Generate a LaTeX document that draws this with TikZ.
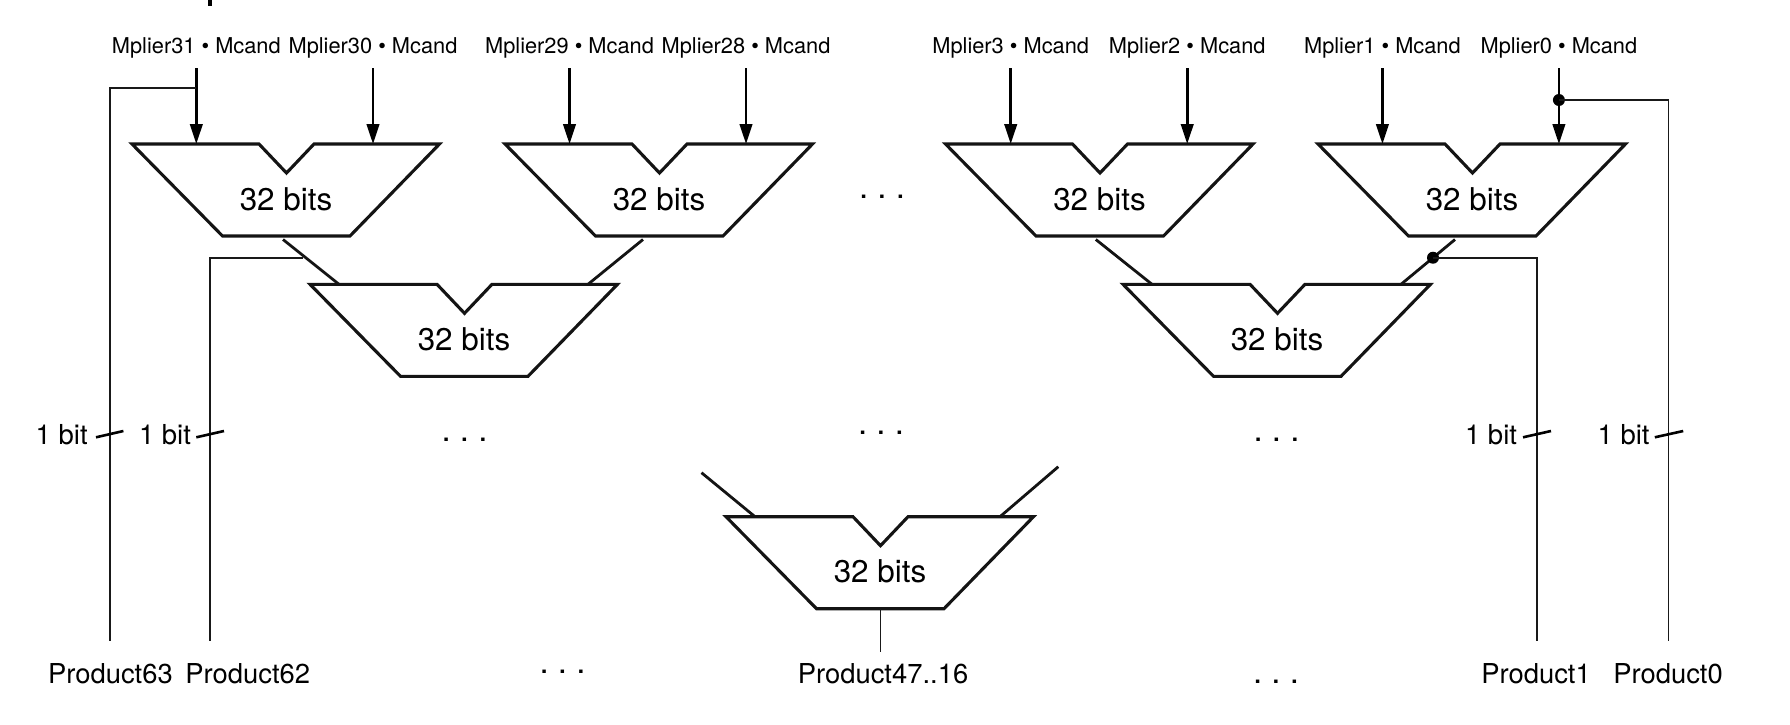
\documentclass[tikz,border=0pt]{standalone}
\usepackage{fontspec}
\setmainfont{TeX Gyre Heros}
\usetikzlibrary{arrows.meta}
\newcommand{\spaceddots}{.\kern9.2pt.\kern9.2pt.}
\tikzset{
  x=1pt,y=-1pt,
  outline/.style={draw=black!92,line width=3.1pt,line join=miter,fill=white},
  wire/.style={draw=black!90,line width=1.8pt},
  feed/.style={draw=black!92,line width=2.8pt},
  input/.style={draw=black,line width=2.6pt,-{Stealth[length=20pt,width=12.5pt,inset=0pt]}},
  tick/.style={draw=black,line width=2.6pt},
  junction/.style={circle,fill=black,inner sep=0pt,minimum size=12pt},
  bitstext/.style={anchor=base,inner sep=0pt,font=\fontsize{31.4}{31.4}\selectfont},
  toplabel/.style={anchor=base,inner sep=0pt,font=\fontsize{21.8}{21.8}\selectfont},
  prodlabel/.style={anchor=base,inner sep=0pt,font=\fontsize{27.4}{27.4}\selectfont},
  widthlabel/.style={anchor=base,inner sep=0pt,font=\fontsize{27.5}{27.5}\selectfont},
  dotslabel/.style={anchor=base,inner sep=0pt,font=\fontsize{33}{33}\selectfont},
  alu/.pic={
    \draw[outline] (0,0) -- (127,0) -- (154.5,29) -- (182,0) -- (307.5,0)
      -- (218,92) -- (90.5,92) -- cycle;
    \node[bitstext] (-label) at (154,66) {32 bits};
    \coordinate (-top) at (0,0);
    \coordinate (-bot) at (154.5,92);
    \coordinate (-inl) at (29,0);
    \coordinate (-inr) at (278,0);
  }
}
\begin{document}
\begin{tikzpicture}
\useasboundingbox (0,0) rectangle (1790,724);

% cut-off mark at the top edge
\fill[black] (208.3,0) rectangle (211.8,6);

% adders
\pic (t1) at (132,144) {alu};
\pic (t2) at (505,144) {alu};
\pic (t4) at (945.5,144) {alu};
\pic (t5) at (1318,144) {alu};
\pic (t3) at (310,284.3) {alu};
\pic (t6) at (1123,284.3) {alu};
\pic (t7) at (726,516.7) {alu};

% top labels
\node[toplabel] (l31) at (196.3,53) {Mplier31 • Mcand};
\node[toplabel] (l30) at (373,53) {Mplier30 • Mcand};
\node[toplabel] (l29) at (569.5,53) {Mplier29 • Mcand};
\node[toplabel] (l28) at (746,53) {Mplier28 • Mcand};
\node[toplabel] (l3) at (1010.7,53) {Mplier3 • Mcand};
\node[toplabel] (l2) at (1187.2,53) {Mplier2 • Mcand};
\node[toplabel] (l1) at (1382.4,53) {Mplier1 • Mcand};
\node[toplabel] (l0) at (1558.9,53) {Mplier0 • Mcand};

% arrow starts
\coordinate (a31) at (196.3,68);
\coordinate (a30) at (373,68);
\coordinate (a29) at (569.5,68);
\coordinate (a28) at (746,68);
\coordinate (a3) at (1010.7,68);
\coordinate (a2) at (1187.2,68);
\coordinate (a1) at (1382.4,68);
\coordinate (a0) at (1558.9,68);
\draw[input] (a31) -- (a31 |- t1-top);
\draw[input] (a30) -- (a30 |- t1-top);
\draw[input] (a29) -- (a29 |- t2-top);
\draw[input] (a28) -- (a28 |- t2-top);
\draw[input] (a3) -- (a3 |- t4-top);
\draw[input] (a2) -- (a2 |- t4-top);
\draw[input] (a1) -- (a1 |- t5-top);
\draw[input] (a0) -- (a0 |- t5-top);

% feeds between rows
\coordinate (f1) at (283,239.5);
\coordinate (f2) at (643,239.5);
\coordinate (f3) at (1095.8,239.5);
\coordinate (f4) at (1455,239.5);
\coordinate (f5) at (701.5,472.7);
\coordinate (f6) at (1058.3,466.7);
\coordinate (t7r) at (1000,516.7);
\draw[feed] (f1) -- (t3-inl);
\draw[feed] (f2) -- (t3-inr);
\draw[feed] (f3) -- (t6-inl);
\draw[feed] (f4) -- (t6-inr);
\draw[feed] (f5) -- (t7-inl);
\draw[feed] (f6) -- (t7r);

% product labels
\node[prodlabel] (p63) at (110.4,683.5) {Product63};
\node[prodlabel] (p62) at (247.7,683.5) {Product62};
\node[prodlabel] (pm) at (883,683.5) {Product47..16};
\node[prodlabel] (p1) at (1536,683.5) {Product1};
\node[prodlabel] (p0) at (1668,683.5) {Product0};

% taps
\coordinate (b31) at (196.3,87.7);
\coordinate (e63) at (109.6,640.7);
\coordinate (b30) at (303,257.7);
\coordinate (e62) at (210,640.7);
\coordinate (e1) at (1536.8,640.7);
\coordinate (e0) at (1668.4,640.7);
\coordinate (em) at (880.5,651.7);
\node[junction] (d0) at (1558.9,100) {};
\node[junction] (d1) at (1433,257.7) {};
\draw[wire] (b31) -| (e63);
\draw[wire] (b30) -| (e62);
\draw[wire] (d1.center) -| (e1);
\draw[wire] (d0.center) -| (e0);
\draw[wire] (t7-bot) -- (em);

% width ticks and labels
\coordinate (k1a) at (96,437.3); \coordinate (k1b) at (123.4,431);
\coordinate (k2a) at (196.3,437.3); \coordinate (k2b) at (224,431);
\coordinate (k3a) at (1523,437.3); \coordinate (k3b) at (1551,431);
\coordinate (k4a) at (1654.8,437.3); \coordinate (k4b) at (1683.2,431);
\draw[tick] (k1a) -- (k1b);
\draw[tick] (k2a) -- (k2b);
\draw[tick] (k3a) -- (k3b);
\draw[tick] (k4a) -- (k4b);
\node[widthlabel] (w1) at (61.7,444.5) {1 bit};
\node[widthlabel] (w2) at (165,444.5) {1 bit};
\node[widthlabel] (w3) at (1491,444.5) {1 bit};
\node[widthlabel] (w4) at (1623.6,444.5) {1 bit};

% ellipses
\node[dotslabel] (e1a) at (882,198.5) {\spaceddots};
\node[dotslabel] (e2a) at (464.5,441) {\spaceddots};
\node[dotslabel] (e2b) at (881,434) {\spaceddots};
\node[dotslabel] (e2c) at (1276.5,441) {\spaceddots};
\node[dotslabel] (e3a) at (562.5,673.5) {\spaceddots};
\node[dotslabel] (e3b) at (1276,683.5) {\spaceddots};
\end{tikzpicture}
\end{document}
